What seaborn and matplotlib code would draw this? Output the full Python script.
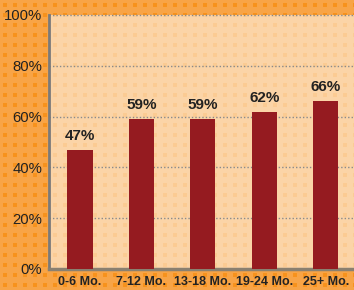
import numpy as np
import pandas as pd
import matplotlib
matplotlib.use("Agg")
import matplotlib.pyplot as plt
import seaborn as sns

categories = ["0-6 Mo.", "7-12 Mo.", "13-18 Mo.", "19-24 Mo.", "25+ Mo."]
values = [47, 59, 59, 62, 66]
yticks = [0, 20, 40, 60, 80, 100]
ytick_labels = ["0%", "20%", "40%", "60%", "80%", "100%"]

sns.set_style("white")
plt.rcParams["font.family"] = ["Liberation Sans", "DejaVu Sans"]

W, H = 354, 290
fig = plt.figure(figsize=(W / 100, H / 100), dpi=100)

# patterned orange background
bg = fig.add_axes([0, 0, 1, 1], zorder=-2)
img = np.zeros((H, W, 3))
base = np.array([248, 164, 70]) / 255
dot = np.array([247, 146, 28]) / 255
img[:, :] = base
yy, xx = np.mgrid[0:H, 0:W]
mask = ((xx - 3) % 10 < 4) & ((yy - 3) % 10 < 4)
img[mask] = dot
bg.imshow(img, extent=[0, W, H, 0], aspect="auto", interpolation="nearest")
bg.set_axis_off()

ax = fig.add_axes([49 / W, 21 / H, (W - 49) / W, 254 / H])
ax.patch.set_facecolor((1, 1, 1, 0.53))

df = pd.DataFrame({"cat": categories, "val": values})
sns.barplot(data=df, x="cat", y="val", color="#951B20", width=0.41,
            saturation=1, linewidth=0, edgecolor="none", ax=ax, zorder=3)
ax.set_xlim(-0.505, 4.46)
ax.set_ylim(0, 100)
ax.set_yticks(yticks)
ax.set_yticklabels(ytick_labels, fontsize=10.7, color="#222222")
ax.set_xlabel("")
ax.set_ylabel("")
for lab in ax.get_xticklabels():
    lab.set_fontweight("bold")
    lab.set_fontsize(9)
    lab.set_color("#222222")
ax.tick_params(axis="both", length=0)
ax.tick_params(axis="y", pad=5)
ax.tick_params(axis="x", pad=5)

ax.yaxis.grid(True, linestyle=(0, (1, 1.5)), color="#8a8a8a", linewidth=1, zorder=1)
ax.set_axisbelow(True)
ax.yaxis.get_gridlines()[-1].set_clip_on(False)

for s in ["top", "right"]:
    ax.spines[s].set_visible(False)
ax.spines["left"].set_color("#7a7a7a")
ax.spines["left"].set_linewidth(2)
ax.spines["bottom"].set_color("#8a8070")
ax.spines["bottom"].set_linewidth(2.5)

ax.bar_label(ax.containers[0], labels=[f"{v}%" for v in values], padding=5,
             fontsize=11, fontweight="bold", color="#222222")

fig.savefig("out.png", dpi=100)
